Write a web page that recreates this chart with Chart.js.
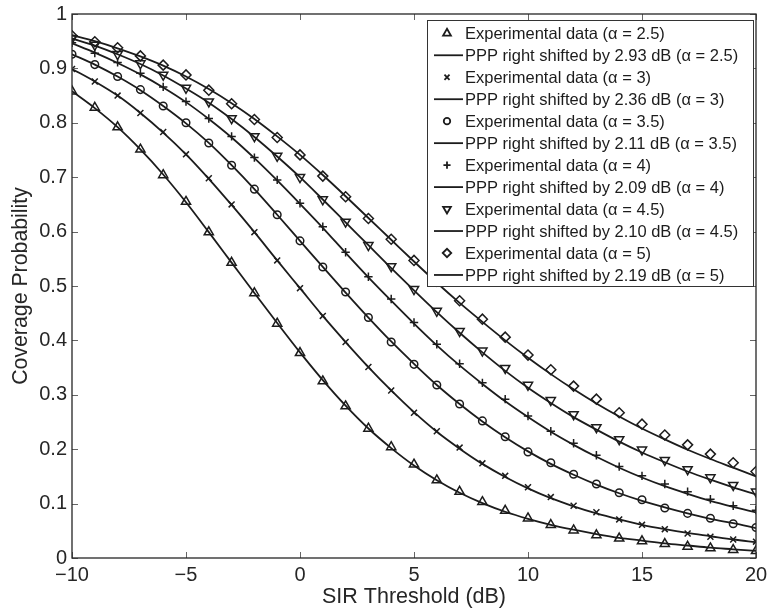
<!DOCTYPE html>
<html>
<head>
<meta charset="utf-8">
<script src="https://cdn.jsdelivr.net/npm/chart.js@4.4.1/dist/chart.umd.min.js"></script>
<style>
html, body { margin: 0; padding: 0; background: #fff; }
#wrap { width: 769px; height: 611px; }
</style>
</head>
<body>
<div id="wrap"><canvas id="chart" width="769" height="611"></canvas></div>
<script>
// SIR threshold (dB), one sample per dB
const sirDb = [-10, -9, -8, -7, -6, -5, -4, -3, -2, -1, 0, 1, 2, 3, 4, 5, 6, 7, 8, 9, 10,
  11, 12, 13, 14, 15, 16, 17, 18, 19, 20];

// experimental coverage probability
const exp25 = [0.858, 0.828, 0.792, 0.751, 0.704, 0.655, 0.599, 0.543, 0.487, 0.431, 0.377, 0.325, 0.279, 0.238, 0.204, 0.172,
  0.143, 0.122, 0.103, 0.087, 0.073, 0.061, 0.051, 0.042, 0.036, 0.031, 0.026, 0.021, 0.018, 0.015, 0.013];
const exp3 = [0.899, 0.876, 0.850, 0.818, 0.783, 0.742, 0.698, 0.650, 0.599, 0.547, 0.496, 0.445, 0.397, 0.351, 0.308, 0.267,
  0.233, 0.203, 0.174, 0.151, 0.130, 0.112, 0.096, 0.084, 0.071, 0.061, 0.053, 0.045, 0.039, 0.034, 0.030];
const exp35 = [0.926, 0.907, 0.885, 0.861, 0.831, 0.800, 0.763, 0.722, 0.678, 0.631, 0.583, 0.535, 0.489, 0.442, 0.397, 0.356,
  0.318, 0.283, 0.252, 0.223, 0.195, 0.175, 0.154, 0.136, 0.120, 0.107, 0.092, 0.082, 0.073, 0.063, 0.056];
const exp4 = [0.947, 0.928, 0.911, 0.891, 0.866, 0.839, 0.808, 0.775, 0.736, 0.695, 0.652, 0.609, 0.562, 0.517, 0.476, 0.433,
  0.393, 0.357, 0.322, 0.292, 0.261, 0.233, 0.211, 0.189, 0.168, 0.151, 0.136, 0.122, 0.108, 0.096, 0.088];
const exp45 = [0.955, 0.943, 0.926, 0.909, 0.888, 0.864, 0.839, 0.808, 0.775, 0.739, 0.700, 0.659, 0.618, 0.575, 0.536, 0.494,
  0.454, 0.417, 0.381, 0.349, 0.318, 0.290, 0.264, 0.240, 0.218, 0.199, 0.180, 0.163, 0.148, 0.134, 0.122];
const exp5 = [0.960, 0.949, 0.938, 0.923, 0.906, 0.888, 0.860, 0.835, 0.806, 0.773, 0.741, 0.702, 0.664, 0.624, 0.586, 0.547,
  0.509, 0.473, 0.439, 0.406, 0.373, 0.346, 0.316, 0.292, 0.267, 0.246, 0.226, 0.208, 0.191, 0.175, 0.159];

// shifted PPP curves
const ppp25 = [0.858, 0.827, 0.792, 0.751, 0.705, 0.654, 0.599, 0.543, 0.487, 0.432, 0.378, 0.327, 0.280, 0.238, 0.202, 0.170,
  0.143, 0.120, 0.101, 0.085, 0.072, 0.061, 0.052, 0.044, 0.037, 0.032, 0.027, 0.023, 0.019, 0.016, 0.013];
const ppp3 = [0.899, 0.876, 0.850, 0.818, 0.782, 0.742, 0.697, 0.649, 0.599, 0.547, 0.496, 0.445, 0.397, 0.351, 0.308, 0.268,
  0.232, 0.201, 0.173, 0.149, 0.128, 0.110, 0.095, 0.082, 0.071, 0.061, 0.053, 0.046, 0.040, 0.034, 0.029];
const ppp35 = [0.926, 0.907, 0.885, 0.860, 0.831, 0.799, 0.763, 0.722, 0.678, 0.631, 0.583, 0.535, 0.488, 0.442, 0.398, 0.357,
  0.318, 0.283, 0.251, 0.222, 0.196, 0.173, 0.153, 0.135, 0.119, 0.105, 0.093, 0.082, 0.072, 0.064, 0.055];
const ppp4 = [0.946, 0.929, 0.910, 0.889, 0.865, 0.838, 0.807, 0.773, 0.735, 0.694, 0.651, 0.607, 0.561, 0.516, 0.473, 0.431,
  0.391, 0.354, 0.320, 0.288, 0.259, 0.232, 0.208, 0.186, 0.166, 0.148, 0.132, 0.118, 0.105, 0.094, 0.084];
const ppp45 = [0.955, 0.942, 0.926, 0.908, 0.887, 0.863, 0.837, 0.807, 0.774, 0.738, 0.700, 0.659, 0.617, 0.575, 0.533, 0.492,
  0.452, 0.414, 0.378, 0.344, 0.313, 0.285, 0.259, 0.236, 0.214, 0.194, 0.176, 0.159, 0.144, 0.130, 0.117];
const ppp5 = [0.961, 0.950, 0.937, 0.922, 0.905, 0.885, 0.862, 0.836, 0.807, 0.775, 0.741, 0.704, 0.665, 0.625, 0.585, 0.545,
  0.506, 0.469, 0.434, 0.400, 0.368, 0.338, 0.310, 0.284, 0.260, 0.238, 0.218, 0.199, 0.182, 0.166, 0.150];

const seriesLabels = [
  "Experimental data (\u03b1 = 2.5)", "PPP right shifted by 2.93 dB (\u03b1 = 2.5)",
  "Experimental data (\u03b1 = 3)", "PPP right shifted by 2.36 dB (\u03b1 = 3)",
  "Experimental data (\u03b1 = 3.5)", "PPP right shifted by 2.11 dB (\u03b1 = 3.5)",
  "Experimental data (\u03b1 = 4)", "PPP right shifted by 2.09 dB (\u03b1 = 4)",
  "Experimental data (\u03b1 = 4.5)", "PPP right shifted by 2.10 dB (\u03b1 = 4.5)",
  "Experimental data (\u03b1 = 5)", "PPP right shifted by 2.19 dB (\u03b1 = 5)"
];

const INK = "#1c1c1c";

function pts(arr) {
  return sirDb.map((x, i) => ({ x: x, y: arr[i] }));
}

function markers(label, arr, style, radius, rotation) {
  return {
    label: label, data: pts(arr), showLine: false,
    pointStyle: style, pointRadius: radius, pointRotation: rotation || 0,
    pointBorderColor: INK, pointBackgroundColor: "rgba(0,0,0,0)", pointBorderWidth: 1.5,
    pointHoverRadius: radius
  };
}

function curve(label, arr) {
  return {
    label: label, data: pts(arr), showLine: true, pointRadius: 0, pointHoverRadius: 0,
    borderColor: INK, borderWidth: 1.8, cubicInterpolationMode: "monotone", fill: false
  };
}

const datasets = [
  markers(seriesLabels[0], exp25, "triangle", 5.3, 0), curve(seriesLabels[1], ppp25),
  markers(seriesLabels[2], exp3, "crossRot", 4.2, 0), curve(seriesLabels[3], ppp3),
  markers(seriesLabels[4], exp35, "circle", 3.8, 0), curve(seriesLabels[5], ppp35),
  markers(seriesLabels[6], exp4, "cross", 4.2, 0), curve(seriesLabels[7], ppp4),
  markers(seriesLabels[8], exp45, "triangle", 5.3, 180), curve(seriesLabels[9], ppp45),
  markers(seriesLabels[10], exp5, "rectRot", 5, 0), curve(seriesLabels[11], ppp5)
];

// inward ticks and the full box, matlab style
const frameTicks = {
  id: "frameTicks",
  afterDatasetsDraw(chart) {
    const { ctx, chartArea: a, scales } = chart;
    ctx.save();
    ctx.strokeStyle = "#666";
    ctx.lineWidth = 1;
    ctx.beginPath();
    scales.x.ticks.forEach(t => {
      const px = Math.round(scales.x.getPixelForValue(t.value)) + 0.5;
      ctx.moveTo(px, a.bottom); ctx.lineTo(px, a.bottom - 6);
      ctx.moveTo(px, a.top); ctx.lineTo(px, a.top + 6);
    });
    scales.y.ticks.forEach(t => {
      const py = Math.round(scales.y.getPixelForValue(t.value)) + 0.5;
      ctx.moveTo(a.left, py); ctx.lineTo(a.left + 6, py);
      ctx.moveTo(a.right, py); ctx.lineTo(a.right - 6, py);
    });
    ctx.stroke();
    ctx.strokeStyle = "#262626";
    ctx.lineWidth = 1.3;
    ctx.strokeRect(a.left, a.top, a.width, a.height);
    ctx.restore();
  }
};

// opaque legend box in the upper right corner of the axes
const boxLegend = {
  id: "boxLegend",
  afterDatasetsDraw(chart) {
    const { ctx, chartArea: a } = chart;
    const w = 326, rowH = 21.97, h = 266;
    const left = a.right - 3 - w, top = a.top + 6;
    ctx.save();
    ctx.fillStyle = "#fff";
    ctx.fillRect(left, top, w, h);
    ctx.strokeStyle = "#333";
    ctx.lineWidth = 1;
    ctx.strokeRect(left + 0.5, top + 0.5, w, h);
    ctx.font = '16.5px "Liberation Sans", Arial, Helvetica, sans-serif';
    ctx.textBaseline = "middle";
    chart.data.datasets.forEach((ds, i) => {
      const cy = top + 13.3 + i * rowH;
      ctx.strokeStyle = INK;
      if (ds.showLine) {
        ctx.lineWidth = 1.8;
        ctx.beginPath();
        ctx.moveTo(left + 7, cy);
        ctx.lineTo(left + 36, cy);
        ctx.stroke();
      } else {
        ctx.fillStyle = "rgba(0,0,0,0)";
        ctx.lineWidth = 1.8;
        Chart.helpers.drawPoint(ctx, {
          pointStyle: ds.pointStyle, rotation: ds.pointRotation,
          radius: ds.pointRadius * 0.85, borderWidth: 1.8
        }, left + 20, cy);
      }
      ctx.fillStyle = INK;
      ctx.fillText(ds.label, left + 38, cy + 1);
    });
    ctx.restore();
  }
};

Chart.defaults.font.family = '"Liberation Sans", Arial, Helvetica, sans-serif';
Chart.defaults.font.size = 20;
Chart.defaults.color = "#262626";

new Chart(document.getElementById("chart"), {
  type: "scatter",
  data: { datasets: datasets },
  options: {
    responsive: false,
    animation: false,
    layout: { padding: { top: 14, right: 13, left: 0, bottom: 0 } },
    plugins: {
      legend: { display: false },
      tooltip: { enabled: false }
    },
    scales: {
      x: {
        type: "linear", min: -10, max: 20,
        border: { display: false },
        grid: { display: false, drawTicks: false },
        ticks: {
          stepSize: 5, padding: 5, maxRotation: 0,
          callback: v => (v < 0 ? "\u2212" + Math.abs(v) : String(v))
        },
        title: { display: true, text: "SIR Threshold (dB)", font: { size: 21.5 }, padding: { top: 0, bottom: 1 } },
        afterFit: s => { s.height = 53; s.paddingLeft = 0; s.paddingRight = 0; }
      },
      y: {
        type: "linear", min: 0, max: 1,
        border: { display: false },
        grid: { display: false, drawTicks: false },
        ticks: { stepSize: 0.1, padding: 5, callback: v => String(+v.toFixed(1)) },
        title: { display: true, text: "Coverage Probability", font: { size: 21.3 }, padding: { top: 8, bottom: 0 } },
        afterFit: s => { s.width = 72; s.paddingTop = 0; s.paddingBottom = 0; }
      }
    }
  },
  plugins: [frameTicks, boxLegend]
});
</script>
</body>
</html>
